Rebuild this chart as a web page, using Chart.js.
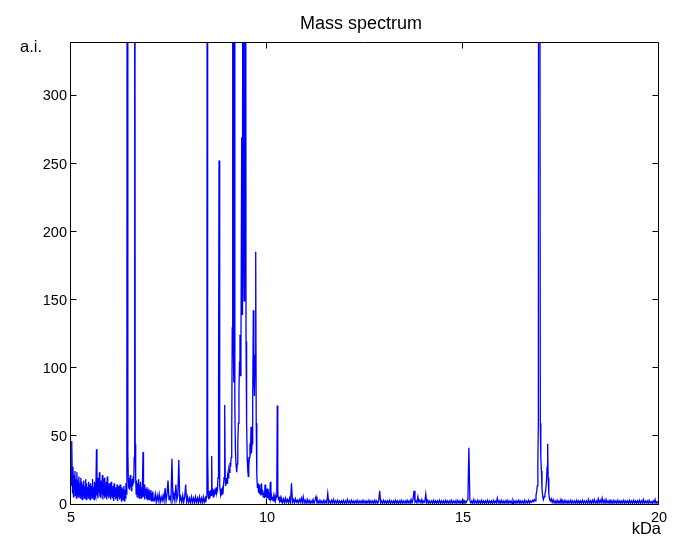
<!DOCTYPE html>
<html><head><meta charset="utf-8">
<script src="https://cdn.jsdelivr.net/npm/chart.js@4.4.1/dist/chart.umd.min.js"></script>
<style>html,body{margin:0;padding:0;background:#fff}canvas{display:block}</style>
</head><body>
<canvas id="c" width="685" height="554"></canvas>
<script>
// ---- Data (x in kDa, intensity in a.i.) ----
const titleText = 'Mass spectrum';
const yAxisLabel = 'a.i.';
const xAxisLabel = 'kDa';
const xTickValues = [5, 10, 15, 20];
const yTickValues = [0, 50, 100, 150, 200, 250, 300];
const xRange = [5, 20];
const yRange = [0, 340];

// 5.000 .. 7.100 kDa, sampled every 0.0125 kDa
const lowMassStart = 5.0, lowMassStep = 0.0125;
const lowMassIntensity = [
  26,14,47,9,28,6,22,11,25,7,19,5,24,8,18,6,21,10,16,5,
  20,7,17,4,15,9,18,5,14,6,19,4,16,8,13,5,17,6,15,4,
  16,7,14,5,19,6,13,4,17,8,15,6,41,7,20,5,14,9,24,6,
  18,5,16,8,22,4,15,7,20,5,13,6,17,4,21,7,14,5,16,6,
  15,4,17,6,12,5,14,3,16,6,11,4,13,5,15,3,12,6,14,4,
  15,5,11,3,13,6,12,4,14,3,11,5,16,8,30,900,40,18,12,20,
  11,22,13,17,10,19,14,21,16,35,900,45,20,8,18,6,16,9,19,5,
  15,7,17,5,13,6,18,39,6,15,4,14,7,12,5,13,4,11,6,12,
  4,10,5,11,3,9,4,10,3
];

// 7.125 .. 8.400 kDa, sampled every 0.025 kDa
const lateLowStart = 7.125, lateLowStep = 0.025;
const lateLowIntensity = [
  3,8,2,7,3,8,2,6,3,7,
  3,12.5,3,8,18,4,7,3,34,4,
  8,3,15,4,7,33,3,6,2,7,
  2,6,15,2,6,2,5,1.5,6,2,
  5,1.5,6,2,5,1.5,6,2,5,1.5,6,2
];

// 8.4 .. 10.4 kDa peak cluster, [kDa, a.i.]
const clusterPeaks = [
  [8.425,5],[8.44,2],[8.455,6],[8.468,30],[8.477,900],[8.486,40],[8.50,9],[8.515,4],[8.53,10],[8.545,5],
  [8.56,11],[8.575,7],[8.589,36],[8.60,8],[8.615,12],[8.63,6],[8.645,11],[8.66,7],[8.675,12],[8.69,8],
  [8.705,13],[8.72,9],[8.735,11],[8.75,20],[8.763,80],[8.776,253],[8.787,60],[8.80,14],[8.815,8],[8.83,12],
  [8.845,7],[8.86,11],[8.875,8],[8.89,14],[8.905,20],[8.921,73.5],[8.935,18],[8.95,14],[8.965,20],[8.98,16],
  [8.995,22],[9.01,20],[9.025,26],[9.04,24],[9.056,31],[9.07,28],[9.085,35],[9.10,50],[9.113,130],[9.125,700],
  [9.14,120],[9.152,90],[9.166,700],[9.18,70],[9.195,40],[9.21,30],[9.227,24],[9.24,30],[9.255,45],[9.27,60],
  [9.285,85],[9.30,105],[9.311,125],[9.32,95],[9.335,110],[9.355,270],[9.365,140],[9.375,190],[9.388,700],[9.40,200],
  [9.415,150],[9.43,220],[9.452,700],[9.465,120],[9.48,60],[9.495,35],[9.51,25],[9.523,21],[9.535,28],[9.55,35],
  [9.565,42],[9.58,40],[9.592,57.5],[9.605,38],[9.62,45],[9.635,75],[9.651,143],[9.665,95],[9.68,80],[9.695,110],
  [9.712,186],[9.725,60],[9.74,22],[9.755,13],[9.77,16],[9.785,9],[9.80,15],[9.815,8],[9.83,12],[9.845,7],
  [9.86,16],[9.875,8],[9.89,11],[9.905,6],[9.92,9],[9.935,5],[9.95,15],[9.965,6],[9.98,9],[9.995,5],
  [10.01,12],[10.025,5],[10.04,8],[10.055,4],[10.07,7],[10.085,17],[10.10,5],[10.115,7],[10.13,4],[10.145,6],
  [10.16,3],[10.175,6],[10.19,4],[10.205,7],[10.22,4],[10.235,6],[10.25,12],[10.262,73],[10.275,10],[10.29,4],
  [10.305,6],[10.32,3],[10.335,5],[10.35,2],[10.365,5],[10.38,3]
];

// 10.400 .. 16.800 kDa, sampled every 0.025 kDa
const midMassStart = 10.4, midMassStep = 0.025;
const midMassIntensity = [
  2,4.5,1.5,5,2,4,1.5,5,2,16, 2,4,1.5,4.5,2,3.5,1.5,4,2,5, 1.5,6,1.5,3.5,1.2,4,1.5,3.5,1.2,3, 1.5,4,1.2,3.5,6,1.5,3,1.2,3.5,1.5,
  3,1.2,3.5,1.5,3,1.2,8.5,1.5,3,1.2, 3.5,1.5,4,1.2,3,1.5,3.5,1.2,3,1.5, 3,1.2,3.5,1.5,3,1.2,4,1.5,3,1.2, 3.5,1.5,3,1.2,3,1.5,3.5,1.2,3,1.5,
  3,1.2,3.5,1.5,3,1.2,3,1.5,3.5,1.2, 3,1.5,3,1.2,3.5,1.5,3,1.2,3,10.5, 1.5,3,1.2,3.5,1.5,3,1.2,3,1.5,3.5, 1.2,3,1.5,3,1.2,3.5,1.5,3,1.2,3,
  1.5,3.5,1.2,3,1.5,3,1.2,3.5,1.5,3, 1.2,4,1.5,4,10.5,2,3,1.5,6,2, 3.5,1.5,4,1.5,3,2,8,1.5,3.5,1.2, 3,1.5,3,1.2,3.5,1.5,3,1.2,3,1.5,
  3.5,1.2,3,1.5,3,1.2,3.5,1.5,3,1.2, 3,1.5,3.5,1.2,3,1.5,3,1.2,3.5,1.5, 3,1.2,3,1.5,3.5,1.2,3,1.5,3,4, 42,3.5,1.5,3,1.2,4,1.5,3,1.2,3.5,
  1.5,3,1.2,3.5,1.5,3,1.2,3,1.5,3.5, 1.2,3,1.5,3,1.2,3.5,1.5,3,1.5,5, 1.5,3,1.2,3.5,1.5,3,1.2,3,1.5,3.5, 1.2,3,1.5,3,1.2,3.5,1.5,3,1.2,3,
  1.5,3.5,1.2,3,1.5,3,1.2,3.5,1.5,3,1.5,3.5,1.5,3,2,3.5,2.5
];

// main peak at ~16.95 kDa and its satellite, [kDa, a.i.]
const mainPeak = [
  [16.82,4],[16.84,3],[16.862,7],[16.88,10],[16.895,14],[16.91,30],[16.922,60],[16.94,1200],[16.955,1200],[16.972,60],
  [16.985,35],[17.00,25],[17.015,12],[17.035,6],[17.05,4],[17.07,6],[17.09,8],[17.11,11],[17.13,18],[17.145,28],
  [17.16,45],[17.172,20],[17.19,8],[17.21,4],[17.23,3],[17.25,4.5],[17.275,2]
];

// 17.300 .. 20.000 kDa, sampled every 0.025 kDa
const highMassStart = 17.3, highMassStep = 0.025;
const highMassIntensity = [
  4,1.5,3,1.2,3.5,1.5,3,1.2,4,1.5, 3,1.2,3.5,1.5,3,1.2,3,1.5,3.5,1.2, 3,1.5,3,1.2,3.5,1.5,3,1.2,3,1.5, 3.5,1.2,3,1.5,3,1.2,4,1.5,3,1.2,
  3.5,1.5,4,1.5,3,1.2,4.5,1.5,3.5,1.5, 5,1.5,3.5,1.2,4,1.5,3,1.2,3.5,1.5, 3,1.2,3.5,1.5,3,1.2,3.5,1.5,3,1.2, 3,1.5,3.5,1.2,3,1.5,3,1.2,3.5,1.5,
  3,1.2,3.5,1.5,3,1.2,3,1.5,3.5,1.2, 3,1.5,4,1.2,3,1.5,3,1.2,3.5,1.5, 2.5,1.2,3,1.5,4,1.2,2.5,1.5,2
];

// ---- build the series for the library ----
function sampled(start, step, values) {
  return values.map((v, i) => ({ x: +(start + i * step).toFixed(4), y: v }));
}
const pairs = arr => arr.map(p => ({ x: p[0], y: p[1] }));
const spectrum = [].concat(
  sampled(lowMassStart, lowMassStep, lowMassIntensity),
  sampled(lateLowStart, lateLowStep, lateLowIntensity),
  pairs(clusterPeaks),
  sampled(midMassStart, midMassStep, midMassIntensity),
  pairs(mainPeak),
  sampled(highMassStart, highMassStep, highMassIntensity)
);

const FONT = "'Liberation Sans', Arial, Helvetica, sans-serif";
const TICK_FONT_SIZE = 14.5;
const LABEL_FONT_SIZE = 16.5;
const TITLE_FONT_SIZE = 18;

const frame = {
  id: 'frame',
  afterDatasetsDraw(chart) {
    const { ctx, chartArea: a, scales: { x, y } } = chart;
    const L = Math.floor(a.left) - 0.5, R = Math.floor(a.right) - 0.5;
    const T = Math.floor(a.top) + 0.5, B = Math.floor(a.bottom) - 0.5;
    ctx.save();
    ctx.strokeStyle = '#000';
    ctx.lineWidth = 1;
    ctx.beginPath();
    ctx.rect(L, T, R - L, B - T);
    const len = 6;
    x.ticks.forEach(t => {
      const px = Math.floor(x.getPixelForValue(t.value)) - 0.5;
      ctx.moveTo(px, B); ctx.lineTo(px, B - len);
      ctx.moveTo(px, T); ctx.lineTo(px, T + len);
    });
    y.ticks.forEach(t => {
      const py = Math.floor(y.getPixelForValue(t.value)) - 0.5;
      ctx.moveTo(L, py); ctx.lineTo(L + len, py);
      ctx.moveTo(R, py); ctx.lineTo(R - len, py);
    });
    ctx.stroke();
    ctx.fillStyle = '#000';
    ctx.textBaseline = 'middle';
    ctx.font = TITLE_FONT_SIZE + 'px ' + FONT;
    ctx.textAlign = 'center';
    ctx.fillText(titleText, (a.left + a.right) / 2 - 4, 24);
    ctx.font = LABEL_FONT_SIZE + 'px ' + FONT;
    ctx.textAlign = 'left';
    ctx.fillText(yAxisLabel, 20, 47);
    ctx.textAlign = 'right';
    ctx.fillText(xAxisLabel, a.right + 2, 529);
    ctx.restore();
  }
};

new Chart(document.getElementById('c'), {
  type: 'line',
  data: {
    datasets: [{
      data: spectrum,
      borderColor: '#0000ff',
      borderWidth: 1.3,
      pointRadius: 0,
      tension: 0,
      fill: false,
      clip: 0
    }]
  },
  options: {
    responsive: false,
    animation: false,
    devicePixelRatio: 1,
    layout: { padding: { left: 0, right: 26, top: 42, bottom: 0 } },
    plugins: {
      legend: { display: false },
      tooltip: { enabled: false },
      title: { display: false }
    },
    scales: {
      x: {
        type: 'linear', min: xRange[0], max: xRange[1],
        grid: { display: false, drawTicks: false },
        border: { display: false },
        afterBuildTicks: s => { s.ticks = xTickValues.map(v => ({ value: v })); },
        afterFit: s => { s.height = 49; },
        ticks: { color: '#000', font: { family: FONT, size: TICK_FONT_SIZE }, padding: 4, maxRotation: 0, autoSkip: false }
      },
      y: {
        type: 'linear', min: yRange[0], max: yRange[1],
        grid: { display: false, drawTicks: false },
        border: { display: false },
        afterBuildTicks: s => { s.ticks = yTickValues.map(v => ({ value: v })); },
        afterFit: s => { s.width = 71; },
        ticks: { color: '#000', font: { family: FONT, size: TICK_FONT_SIZE }, padding: 4, autoSkip: false }
      }
    }
  },
  plugins: [frame]
});
</script>
</body></html>
